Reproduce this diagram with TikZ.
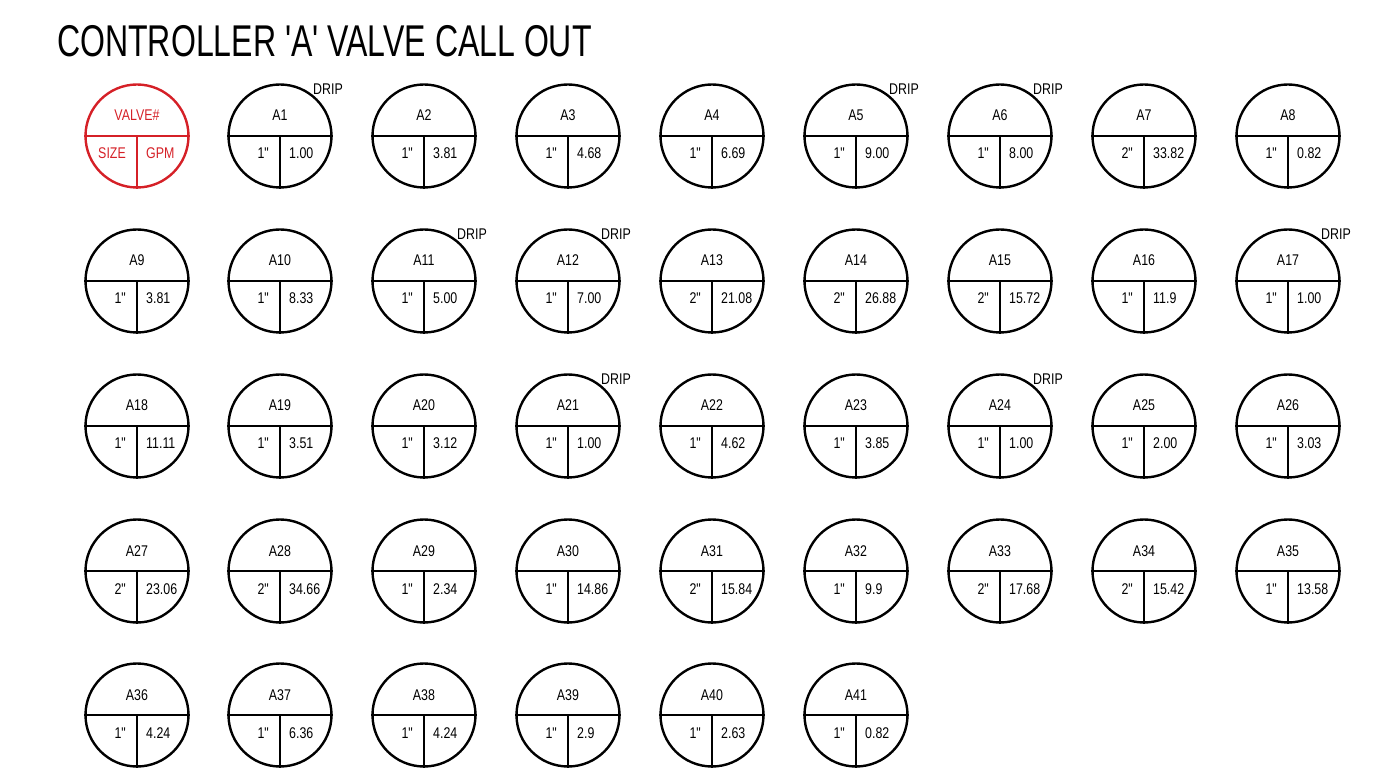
\documentclass[tikz,border=0pt]{standalone}
\usepackage{fontspec}
\setmainfont{Liberation Sans}
\newfontfamily\narrowfont{Liberation Sans}[FakeStretch=0.8]
\newfontfamily\titlefont{Liberation Sans}[FakeStretch=0.72]
\definecolor{legendred}{RGB}{213,32,39}
\tikzset{
  valvecircle/.style={circle, draw, minimum size=103pt, inner sep=0pt, line width=2.4pt},
  divider/.style={line width=1.8pt},
  vtext/.style={font=\narrowfont\fontsize{15.5}{16}\selectfont, inner sep=0pt},
}
\newcommand{\valvecallout}[8]{%
  % #1 name, #2 x, #3 y, #4 label, #5 size, #6 gpm, #7 drip (1/0), #8 colour
  \node[valvecircle, draw=#8] (#1) at (#2,#3) {};
  \draw[divider, draw=#8] (#1.west) -- (#1.east);
  \draw[divider, draw=#8] (#1.center) -- (#1.south);
  \node[vtext, text=#8, anchor=base] (#1-lbl) at (#2,#3-15) {#4};
  \node[vtext, text=#8, anchor=base east] (#1-size) at (#2-11,#3+23) {#5};
  \node[vtext, text=#8, anchor=base west] (#1-gpm) at (#2+9,#3+23) {#6};
  \ifnum#7=1
    \node[vtext, anchor=base west] (#1-drip) at (#2+33,#3-41) {DRIP};
  \fi
}
\begin{document}
\begin{tikzpicture}[x=1pt,y=-1pt]
\useasboundingbox (0,0) rectangle (1385,783);
\node[font=\titlefont\fontsize{44.5}{46}\selectfont, anchor=base west, inner sep=0pt] (title) at (57,57) {CONTROLLER 'A' VALVE CALL OUT};
% row 1
\valvecallout{legend}{137}{136}{VALVE\#}{SIZE}{GPM}{0}{legendred}
\valvecallout{a1}{280}{136}{A1}{1"}{1.00}{1}{black}
\valvecallout{a2}{424}{136}{A2}{1"}{3.81}{0}{black}
\valvecallout{a3}{568}{136}{A3}{1"}{4.68}{0}{black}
\valvecallout{a4}{712}{136}{A4}{1"}{6.69}{0}{black}
\valvecallout{a5}{856}{136}{A5}{1"}{9.00}{1}{black}
\valvecallout{a6}{1000}{136}{A6}{1"}{8.00}{1}{black}
\valvecallout{a7}{1144}{136}{A7}{2"}{33.82}{0}{black}
\valvecallout{a8}{1288}{136}{A8}{1"}{0.82}{0}{black}
% row 2
\valvecallout{a9}{137}{281}{A9}{1"}{3.81}{0}{black}
\valvecallout{a10}{280}{281}{A10}{1"}{8.33}{0}{black}
\valvecallout{a11}{424}{281}{A11}{1"}{5.00}{1}{black}
\valvecallout{a12}{568}{281}{A12}{1"}{7.00}{1}{black}
\valvecallout{a13}{712}{281}{A13}{2"}{21.08}{0}{black}
\valvecallout{a14}{856}{281}{A14}{2"}{26.88}{0}{black}
\valvecallout{a15}{1000}{281}{A15}{2"}{15.72}{0}{black}
\valvecallout{a16}{1144}{281}{A16}{1"}{11.9}{0}{black}
\valvecallout{a17}{1288}{281}{A17}{1"}{1.00}{1}{black}
% row 3
\valvecallout{a18}{137}{426}{A18}{1"}{11.11}{0}{black}
\valvecallout{a19}{280}{426}{A19}{1"}{3.51}{0}{black}
\valvecallout{a20}{424}{426}{A20}{1"}{3.12}{0}{black}
\valvecallout{a21}{568}{426}{A21}{1"}{1.00}{1}{black}
\valvecallout{a22}{712}{426}{A22}{1"}{4.62}{0}{black}
\valvecallout{a23}{856}{426}{A23}{1"}{3.85}{0}{black}
\valvecallout{a24}{1000}{426}{A24}{1"}{1.00}{1}{black}
\valvecallout{a25}{1144}{426}{A25}{1"}{2.00}{0}{black}
\valvecallout{a26}{1288}{426}{A26}{1"}{3.03}{0}{black}
% row 4
\valvecallout{a27}{137}{571}{A27}{2"}{23.06}{0}{black}
\valvecallout{a28}{280}{571}{A28}{2"}{34.66}{0}{black}
\valvecallout{a29}{424}{571}{A29}{1"}{2.34}{0}{black}
\valvecallout{a30}{568}{571}{A30}{1"}{14.86}{0}{black}
\valvecallout{a31}{712}{571}{A31}{2"}{15.84}{0}{black}
\valvecallout{a32}{856}{571}{A32}{1"}{9.9}{0}{black}
\valvecallout{a33}{1000}{571}{A33}{2"}{17.68}{0}{black}
\valvecallout{a34}{1144}{571}{A34}{2"}{15.42}{0}{black}
\valvecallout{a35}{1288}{571}{A35}{1"}{13.58}{0}{black}
% row 5
\valvecallout{a36}{137}{715}{A36}{1"}{4.24}{0}{black}
\valvecallout{a37}{280}{715}{A37}{1"}{6.36}{0}{black}
\valvecallout{a38}{424}{715}{A38}{1"}{4.24}{0}{black}
\valvecallout{a39}{568}{715}{A39}{1"}{2.9}{0}{black}
\valvecallout{a40}{712}{715}{A40}{1"}{2.63}{0}{black}
\valvecallout{a41}{856}{715}{A41}{1"}{0.82}{0}{black}
\end{tikzpicture}
\end{document}
